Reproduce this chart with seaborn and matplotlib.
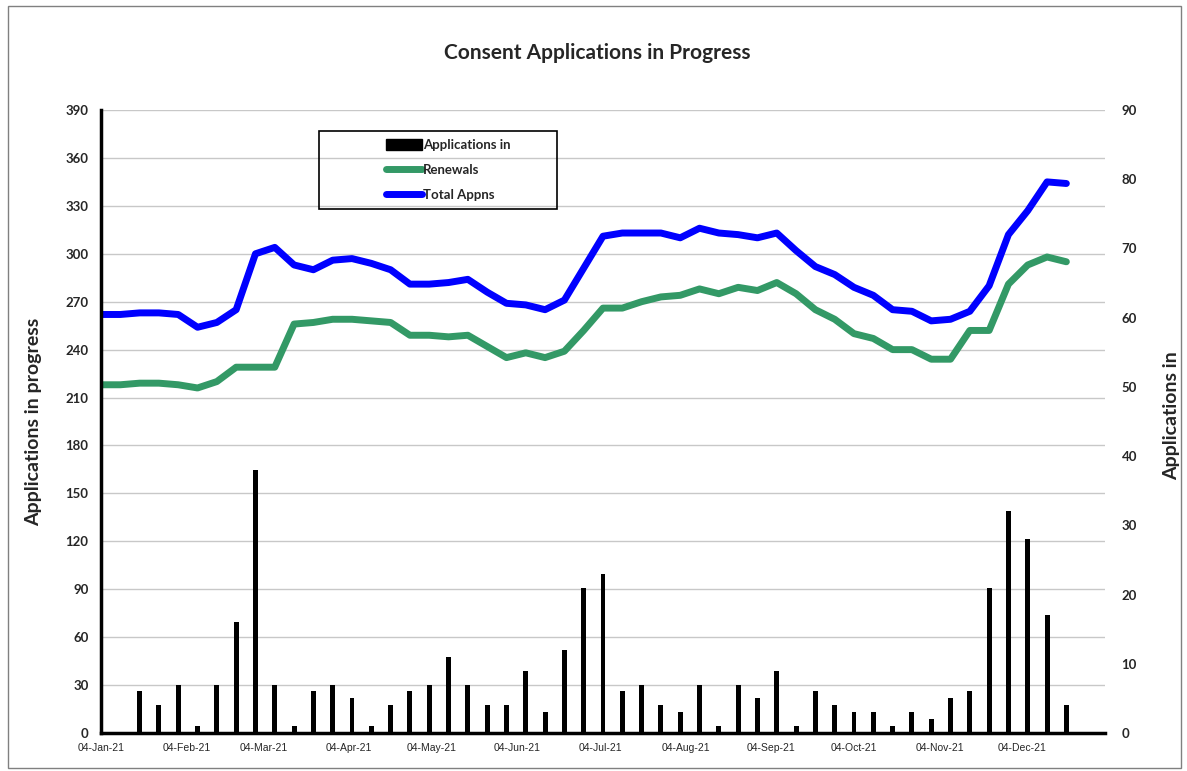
"""
Consent applications in progress - weekly totals, renewals and new applications
"""
import matplotlib.pyplot as plt
import matplotlib.dates as mdates
from matplotlib.patches import Patch, Rectangle
from matplotlib.lines import Line2D
import seaborn as sns
import pandas as pd

# weekly snapshots, Monday 04-Jan-21 to 20-Dec-21
weeks = pd.date_range("2021-01-04", periods=51, freq="7D")

total_appns = [262, 262, 263, 263, 262, 254, 257, 265, 300, 304,
               293, 290, 296, 297, 294, 290, 281, 281, 282, 284,
               276, 269, 268, 265, 271, 291, 311, 313, 313, 313,
               310, 316, 313, 312, 310, 313, 302, 292, 287, 279,
               274, 265, 264, 258, 259, 264, 280, 312, 327, 345, 344]

renewals = [218, 218, 219, 219, 218, 216, 220, 229, 229, 229,
            256, 257, 259, 259, 258, 257, 249, 249, 248, 249,
            242, 235, 238, 235, 239, 252, 266, 266, 270, 273,
            274, 278, 275, 279, 277, 282, 275, 265, 259, 250,
            247, 240, 240, 234, 234, 252, 252, 281, 293, 298, 295]

applications_in = [0, 0, 6, 4, 7, 1, 7, 16, 38, 7,
                   1, 6, 7, 5, 1, 4, 6, 7, 11, 7,
                   4, 4, 9, 3, 12, 21, 23, 6, 7, 4,
                   3, 7, 1, 7, 5, 9, 1, 6, 4, 3,
                   3, 1, 3, 2, 5, 6, 21, 32, 28, 17, 4]

left_ticks = list(range(0, 391, 30))
right_ticks = list(range(0, 91, 10))

GREEN = "#339966"
BLUE = "#0000ff"

df = pd.DataFrame({"week": weeks, "total": total_appns,
                   "renewals": renewals, "new": applications_in})

sns.set_theme(style="white")
plt.rcParams["font.family"] = ["Lato", "DejaVu Sans"]

fig = plt.figure(figsize=(11.87, 7.71), dpi=100)
ax = fig.add_axes([0.0851, 0.0493, 0.8458, 0.808])
ax2 = ax.twinx()

# lines on the left axis
sns.lineplot(data=df, x="week", y="renewals", color=GREEN, linewidth=5,
             solid_joinstyle="round", solid_capstyle="round", ax=ax)
sns.lineplot(data=df, x="week", y="total", color=BLUE, linewidth=5,
             solid_joinstyle="round", solid_capstyle="round", ax=ax)

# new applications as thin bars on the right axis
ax2.bar(df["week"], df["new"], width=1.8, color="black", linewidth=0)

ax.set_ylim(0, 390)
ax2.set_ylim(0, 90)
ax.set_xlim(pd.Timestamp("2021-01-04"), pd.Timestamp("2022-01-03"))

ax.set_yticks(left_ticks, labels=[str(t) for t in left_ticks],
              fontweight="bold", fontsize=9.5)
ax2.set_yticks(right_ticks, labels=[str(t) for t in right_ticks],
               fontweight="bold", fontsize=9.5)

ax.xaxis.set_major_locator(mdates.MonthLocator(bymonthday=4))
ax.xaxis.set_major_formatter(mdates.DateFormatter("%d-%b-%y"))

ax.grid(axis="y", color="#c8c8c8", linewidth=1)
ax.grid(axis="x", visible=False)
ax2.grid(False)

ax.tick_params(axis="x", length=4, width=1.5, color="black", direction="out",
               labelsize=7.5, pad=3, labelfontfamily="Liberation Sans")
ax.tick_params(axis="y", length=0, pad=9)
ax2.tick_params(axis="y", length=0, pad=12)

for s in ["top", "right"]:
    ax.spines[s].set_visible(False)
for s in ["left", "bottom"]:
    ax.spines[s].set_color("black")
    ax.spines[s].set_linewidth(2.5)
for s in ax2.spines.values():
    s.set_visible(False)

ax.set_xlabel("")
ax.set_ylabel("Applications in progress", fontsize=14, fontweight="bold")
ax.yaxis.set_label_coords(-0.059, 0.5)
ax2.set_ylabel("Applications in", fontsize=14, fontweight="bold")
ax2.yaxis.set_label_coords(1.058, 0.51)

fig.text(0.503, 0.931, "Consent Applications in Progress", ha="center",
         va="center", fontsize=15, fontweight="bold")

# legend: transparent box, contents roughly centred
handles = [Patch(facecolor="black", edgecolor="black"),
           Line2D([0], [0], color=GREEN, linewidth=5),
           Line2D([0], [0], color=BLUE, linewidth=5)]
labels = ["Applications in", "Renewals", "Total Appns"]
ax2.legend(handles, labels, loc="center", bbox_to_anchor=(0.346, 0.904),
           frameon=False, handlelength=2.7, handleheight=1.0,
           handletextpad=0.1, labelspacing=0.95,
           prop={"weight": "bold", "size": 9.5})
ax2.add_patch(Rectangle((0.2171, 0.8411), 0.2371, 0.1252, transform=ax2.transAxes,
                        fill=False, edgecolor="black", linewidth=1.2, clip_on=False))

# outer chart border
fig.patches.append(Rectangle((0.007, 0.004), 0.988, 0.988, transform=fig.transFigure,
                             fill=False, edgecolor="#808080", linewidth=1))

fig.savefig("out.png", dpi=100)
plt.close(fig)
